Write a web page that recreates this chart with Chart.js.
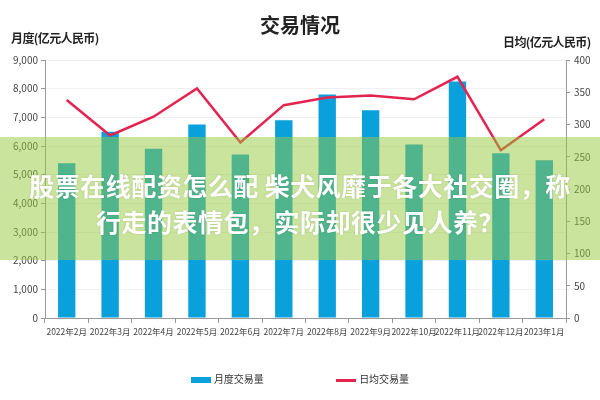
<!DOCTYPE html>
<html>
<head>
<meta charset="utf-8">
<script src="https://cdn.jsdelivr.net/npm/chart.js@4"></script>
<style>
  body { margin: 0; background: #fff; font-family: "Noto Sans CJK SC", sans-serif; }
  #wrap { position: relative; width: 600px; height: 400px; }
  .txt { position: absolute; color: #222; white-space: nowrap; }
  #title { left: 0; width: 600px; top: 10px; text-align: center; font-size: 20px; font-weight: bold; }
  #ltitle { left: 11px; top: 29px; font-size: 12px; font-weight: bold; letter-spacing: -0.6px; }
  #rtitle { left: 503px; top: 33px; font-size: 12px; font-weight: bold; letter-spacing: -0.6px; }
  #legend { left: 0; width: 600px; top: 371px; text-align: center; font-size: 10px; color: #333; }
  #legend span.item { display: inline-block; margin: 0 35px; }
  #legend i { display: inline-block; width: 20px; vertical-align: middle; margin-right: 3px; }
  #band { position: absolute; left: 0; top: 137px; width: 600px; height: 123px;
          background: rgba(150, 200, 60, 0.5); }
  #band div { color: #fff; font-weight: bold; font-size: 25px; text-align: center;
              text-shadow: 0 0 2px rgba(0,0,0,0.15); line-height: 36px; letter-spacing: 0.5px; }
</style>
</head>
<body>
<div id="wrap">
  <canvas id="c" width="600" height="400"></canvas>
  <div class="txt" id="title">交易情况</div>
  <div class="txt" id="ltitle">月度(亿元人民币)</div>
  <div class="txt" id="rtitle">日均(亿元人民币)</div>
  <div class="txt" id="legend">
    <span class="item"><i style="height:6px;background:#0aa0dc"></i>月度交易量</span>
    <span class="item"><i style="height:3px;background:#e5234f"></i>日均交易量</span>
  </div>
  <div id="band">
    <div style="margin-top:30px">股票在线配资怎么配 柴犬风靡于各大社交圈，称</div>
    <div>行走的表情包，实际却很少见人养？</div>
  </div>
</div>
<script>
const months = ['2022年2月', '2022年3月', '2022年4月', '2022年5月', '2022年6月', '2022年7月',
                '2022年8月', '2022年9月', '2022年10月', '2022年11月', '2022年12月', '2023年1月'];
// 月度交易量 (left axis)
const monthly = [5400, 6500, 5900, 6750, 5700, 6900, 7800, 7250, 6050, 8250, 5750, 5500];
// 日均交易量 (right axis)
const daily = [338, 283, 312, 356, 272, 330, 342, 345, 339, 374, 260, 308];

const tickFont = { family: '"Liberation Sans Narrow", "Noto Sans CJK SC", sans-serif', size: 10 };

new Chart(document.getElementById('c'), {
    type: 'bar',
    data: {
        labels: months,
        datasets: [{
            type: 'line',
            label: '日均交易量',
            data: daily,
            yAxisID: 'y1',
            borderColor: '#e5234f',
            borderWidth: 2.5,
            pointRadius: 0,
            tension: 0,
            order: 0
        }, {
            label: '月度交易量',
            data: monthly,
            yAxisID: 'y',
            backgroundColor: '#0aa0dc',
            barPercentage: 0.8,
            categoryPercentage: 0.5,
            order: 1
        }]
    },
    options: {
        responsive: false,
        animation: false,
        layout: { padding: { top: 60, bottom: 52 } },
        plugins: { legend: { display: false }, tooltip: { enabled: false } },
        scales: {
            x: {
                offset: true,
                grid: { drawOnChartArea: false, tickLength: 5, color: '#999', offset: true },
                border: { color: '#999' },
                ticks: { font: { family: tickFont.family, size: 8.5 }, color: '#444', maxRotation: 0, autoSkip: false, padding: 4 },
                afterFit: s => { s.height = 30; }
            },
            y: {
                position: 'left',
                min: 0, max: 9000,
                ticks: { stepSize: 1000, font: tickFont, color: '#444', padding: 3 },
                grid: { color: '#f0f0f0', tickLength: 4, tickColor: '#999' },
                border: { color: '#999' },
                afterFit: s => { s.width = 45; }
            },
            y1: {
                position: 'right',
                min: 0, max: 400,
                ticks: { stepSize: 50, font: tickFont, color: '#444', padding: 4 },
                grid: { drawOnChartArea: false, tickLength: 4, color: '#999' },
                border: { color: '#999' },
                afterFit: s => { s.width = 34; }
            }
        }
    }
});
</script>
</body>
</html>
